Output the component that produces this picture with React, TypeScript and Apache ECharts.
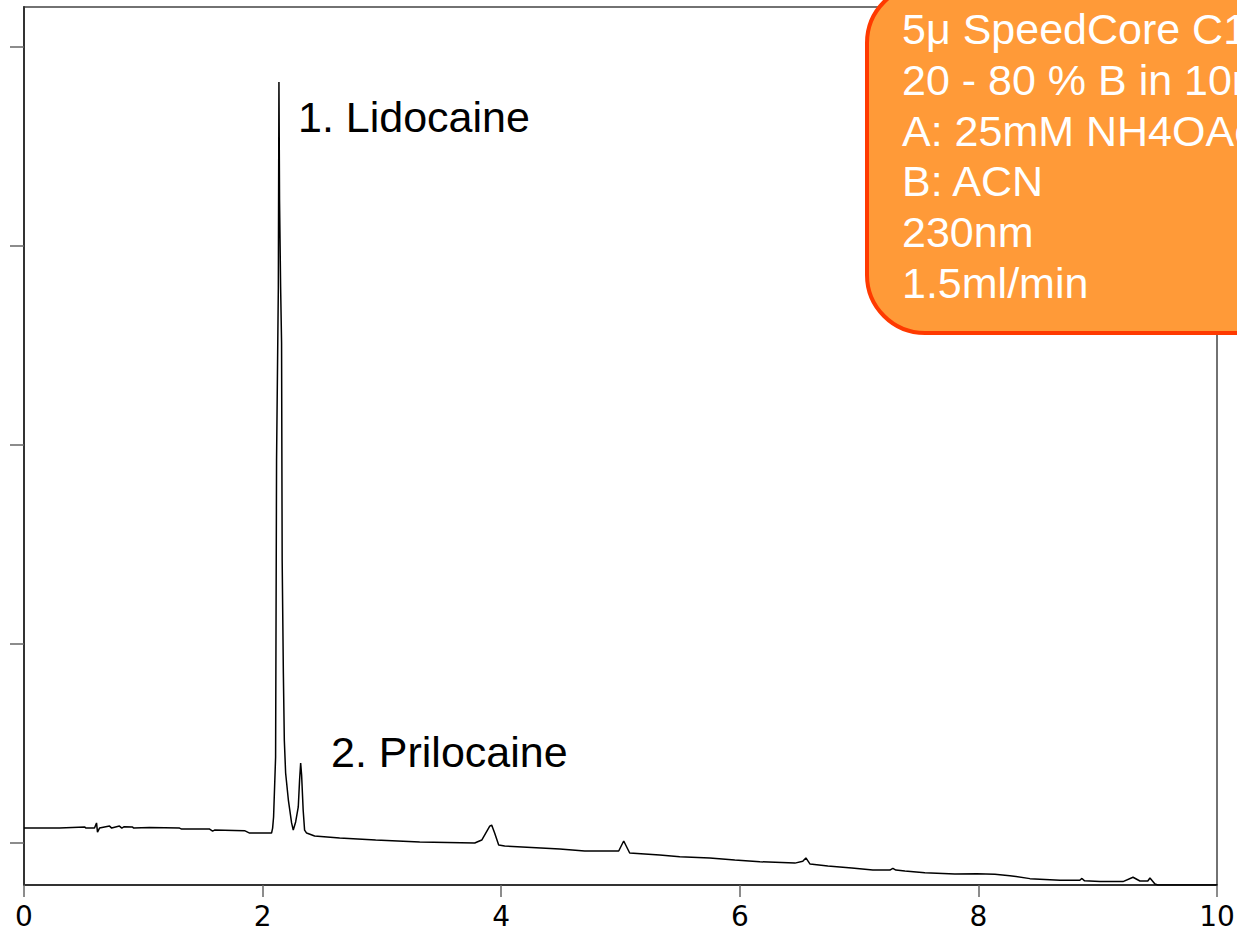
import React, { useEffect, useRef } from "react";
import * as echarts from "echarts";

// Retention time (min) and detector response (arbitrary units, 1 unit per y tick)
const retentionTimes: number[] = [
  0.0, 0.298, 0.51, 0.52, 0.591, 0.608, 0.616, 0.633, 0.717, 0.735, 0.8, 0.82, 0.84, 0.91, 0.92,
  1.052, 1.304, 1.321, 1.556, 1.581, 1.597, 1.849, 1.891, 2.075, 2.084, 2.092, 2.109, 2.117,
  2.132, 2.137, 2.142, 2.151, 2.159, 2.164, 2.174, 2.182, 2.193, 2.216, 2.243, 2.257, 2.277,
  2.299, 2.31, 2.319, 2.327, 2.34, 2.352, 2.369, 2.436, 2.646, 2.948, 3.317, 3.778, 3.837,
  3.904, 3.92, 3.945, 3.979, 4.029, 4.491, 4.7, 4.985, 5.01, 5.027, 5.052, 5.077, 5.329, 5.497,
  5.748, 5.958, 6.168, 6.462, 6.528, 6.554, 6.589, 6.738, 6.939, 7.115, 7.258, 7.283, 7.308,
  7.384, 7.551, 7.803, 7.987, 8.138, 8.264, 8.432, 8.684, 8.85, 8.868, 8.89, 9.019, 9.212,
  9.296, 9.354, 9.42, 9.438, 9.48, 9.505, 10.0,
];
const response: number[] = [
  0.075, 0.075, 0.08, 0.075, 0.075, 0.101, 0.055, 0.075, 0.085, 0.075, 0.085, 0.075, 0.082, 0.08, 0.075,
  0.078, 0.075, 0.07, 0.07, 0.06, 0.065, 0.062, 0.05, 0.05, 0.075, 0.131, 0.432, 1.925,
  2.794, 3.824, 3.231, 2.794, 2.513, 1.422, 0.854, 0.518, 0.352, 0.216, 0.101, 0.065, 0.106,
  0.181, 0.317, 0.402, 0.342, 0.166, 0.065, 0.05, 0.035, 0.025, 0.015, 0.005, 0.0, 0.015,
  0.085, 0.09, 0.05, -0.01, -0.015, -0.03, -0.04, -0.04, -0.01, 0.01, -0.02, -0.05, -0.06, -0.069,
  -0.075, -0.085, -0.094, -0.101, -0.092, -0.075, -0.106, -0.116, -0.126, -0.136, -0.136, -0.127, -0.136,
  -0.141, -0.149, -0.156, -0.154, -0.157, -0.164, -0.179, -0.187, -0.187, -0.178, -0.19, -0.194, -0.194,
  -0.172, -0.191, -0.191, -0.176, -0.206, -0.211, -0.211,
];

const yTickValues: number[] = [0, 1, 2, 3, 4];
const peakLabels: string[] = ["1. Lidocaine", "2. Prilocaine"];
const conditionLines: string[] = [
  "5μ SpeedCore C18",
  "20 - 80 % B in 10min",
  "A: 25mM NH4OAc",
  "B: ACN",
  "230nm",
  "1.5ml/min",
];

export default function App() {
  const ref = useRef<HTMLDivElement>(null);

  useEffect(() => {
    if (!ref.current) return;
    const chart = echarts.init(ref.current, undefined, { renderer: "svg" });
    const data = retentionTimes.map((t, i) => [t, response[i]]);
    const textFont = "'Liberation Sans', Arial, sans-serif";

    const graphics: any[] = [
      {
        type: "rect",
        z: 100,
        shape: { x: 867, y: -15, width: 500, height: 348, r: 58 },
        style: { fill: "#FF9A38", stroke: "#FF3A00", lineWidth: 4 },
      },
      ...conditionLines.map((line, i) => ({
        type: "text",
        z: 101,
        x: 902,
        y: 29 + i * 50.8,
        style: {
          text: line,
          fill: "#ffffff",
          font: `43px ${textFont}`,
          verticalAlign: "middle",
          align: "left",
        },
      })),
      {
        type: "text",
        z: 50,
        x: 298,
        y: 117,
        style: { text: peakLabels[0], fill: "#000", font: `43px ${textFont}`, verticalAlign: "middle" },
      },
      {
        type: "text",
        z: 50,
        x: 331,
        y: 752,
        style: { text: peakLabels[1], fill: "#000", font: `43px ${textFont}`, verticalAlign: "middle" },
      },
    ];

    chart.setOption({
      animation: false,
      backgroundColor: "#ffffff",
      grid: {
        left: 24,
        right: 20,
        top: 7,
        bottom: 47,
        containLabel: false,
        outerBoundsMode: "none",
        show: true,
        borderColor: "#444",
        borderWidth: 1.5,
      },
      xAxis: {
        type: "value",
        min: 0,
        max: 10,
        interval: 2,
        axisLine: { show: true, onZero: false, lineStyle: { color: "#333", width: 2 } },
        axisTick: { show: true, inside: false, length: 12, lineStyle: { color: "#666", width: 1.5 } },
        axisLabel: {
          show: true,
          margin: 17,
          color: "#000",
          fontSize: 28,
          lineHeight: 28,
          fontFamily: "'DejaVu Sans', Verdana, sans-serif",
          showMinLabel: true,
          showMaxLabel: true,
        },
        splitLine: { show: false },
      },
      yAxis: {
        type: "value",
        min: -0.211,
        max: 4.201,
        axisLine: { show: true, onZero: false, lineStyle: { color: "#333", width: 2 } },
        axisTick: {
          show: true,
          inside: false,
          length: 14,
          customValues: yTickValues,
          lineStyle: { color: "#666", width: 1.5 },
        },
        axisLabel: { show: false, customValues: yTickValues },
        splitLine: { show: false },
      },
      series: [
        {
          type: "line",
          data,
          showSymbol: false,
          symbol: "none",
          lineStyle: { color: "#000", width: 1.5 },
          z: 10,
        },
      ],
      graphic: graphics,
    });

    return () => chart.dispose();
  }, []);

  return (
    <div
      ref={ref}
      style={{ position: "absolute", left: 0, top: 0, width: "1237px", height: "932px" }}
    />
  );
}
